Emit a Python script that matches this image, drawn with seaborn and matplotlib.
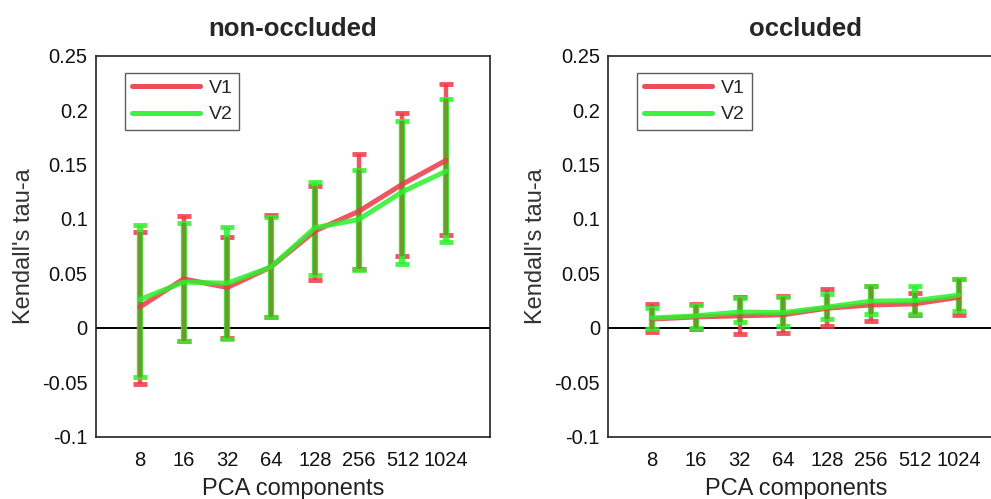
import numpy as np
import pandas as pd
import matplotlib
matplotlib.use("Agg")
import matplotlib.pyplot as plt
import seaborn as sns

# PCA dimensionality on the x axis
components = ["8", "16", "32", "64", "128", "256", "512", "1024"]
series_names = ["V1", "V2"]
panel_titles = ["non-occluded", "occluded"]

# non-occluded: mean Kendall's tau-a and interval bounds
nonocc_v1_mean = [0.019, 0.045, 0.037, 0.056, 0.089, 0.107, 0.132, 0.154]
nonocc_v1_low = [-0.052, -0.012, -0.009, 0.010, 0.044, 0.054, 0.066, 0.085]
nonocc_v1_high = [0.088, 0.103, 0.083, 0.1035, 0.1305, 0.160, 0.197, 0.224]
nonocc_v2_mean = [0.026, 0.042, 0.041, 0.056, 0.092, 0.0995, 0.125, 0.144]
nonocc_v2_low = [-0.045, -0.012, -0.0105, 0.010, 0.0485, 0.0535, 0.0585, 0.079]
nonocc_v2_high = [0.094, 0.0965, 0.093, 0.1015, 0.134, 0.145, 0.190, 0.210]

# occluded
occ_v1_mean = [0.008, 0.010, 0.011, 0.012, 0.018, 0.021, 0.022, 0.028]
occ_v1_low = [-0.004, -0.001, -0.0055, -0.0045, 0.0015, 0.006, 0.0115, 0.0115]
occ_v1_high = [0.022, 0.022, 0.028, 0.029, 0.036, 0.038, 0.032, 0.0445]
occ_v2_mean = [0.009, 0.011, 0.0145, 0.014, 0.019, 0.0245, 0.025, 0.030]
occ_v2_low = [-0.001, 0.0, 0.005, 0.0015, 0.0085, 0.013, 0.013, 0.0155]
occ_v2_high = [0.0185, 0.021, 0.027, 0.028, 0.031, 0.038, 0.038, 0.0445]

y_ticks = [-0.1, -0.05, 0, 0.05, 0.1, 0.15, 0.2, 0.25]
y_tick_labels = ["-0.1", "-0.05", "0", "0.05", "0.1", "0.15", "0.2", "0.25"]

panels = [
    {
        "V1": (nonocc_v1_mean, nonocc_v1_low, nonocc_v1_high),
        "V2": (nonocc_v2_mean, nonocc_v2_low, nonocc_v2_high),
    },
    {
        "V1": (occ_v1_mean, occ_v1_low, occ_v1_high),
        "V2": (occ_v2_mean, occ_v2_low, occ_v2_high),
    },
]

sns.set_theme(style="white")
plt.rcParams["font.family"] = ["Liberation Sans", "DejaVu Sans"]

red = "#ec3a47"
green = "#2cf02c"
olive = "#6c9a2c"
palette = {"V1": red, "V2": green}

fig = plt.figure(figsize=(9.91, 4.99), dpi=100)
axes = [
    fig.add_axes([0.0969, 0.1249, 0.3976, 0.7635]),
    fig.add_axes([0.6138, 0.1249, 0.3976, 0.7635]),
]

pos = np.arange(1, len(components) + 1)

for ax, panel, title in zip(axes, panels, panel_titles):
    # zero reference line
    ax.axhline(0, color="black", lw=1.4, zorder=1)

    # interval bars per series
    for name, width in zip(series_names, [3.2, 4.6]):
        mean, low, high = (np.asarray(a, float) for a in panel[name])
        ax.errorbar(pos, mean, yerr=[mean - low, high - mean], fmt="none",
                    ecolor=palette[name], elinewidth=width, capsize=5,
                    capthick=3.5, alpha=0.85, zorder=2)
    # overlapping part of both intervals
    lo_both = np.maximum(panel["V1"][1], panel["V2"][1])
    hi_both = np.minimum(panel["V1"][2], panel["V2"][2])
    ax.vlines(pos, lo_both, hi_both, color=olive, lw=3.2, zorder=3)

    frames = []
    for name in series_names:
        frames.append(pd.DataFrame({"pos": pos, "tau": panel[name][0],
                                    "series": name}))
    df = pd.concat(frames, ignore_index=True)
    sns.lineplot(data=df, x="pos", y="tau", hue="series", palette=palette,
                 linewidth=3.6, alpha=0.85, ax=ax, zorder=4, errorbar=None)

    handles, labels = ax.get_legend_handles_labels()
    for h in handles:
        h.set_alpha(0.9)
        h.set_linewidth(3.6)
    leg = ax.legend(handles, labels, loc="upper left",
                    bbox_to_anchor=(29 / 394, 1 - 17 / 381),
                    borderaxespad=0, fancybox=False, frameon=True,
                    fontsize=14, handlelength=3.5, handletextpad=0.45,
                    borderpad=0.35, labelspacing=0.45)
    leg.get_frame().set_edgecolor("#333333")
    leg.get_frame().set_linewidth(1.0)

    ax.set_xlim(0, len(components) + 1)
    ax.set_ylim(-0.1, 0.25)
    ax.set_xticks(pos)
    ax.set_xticklabels(components)
    ax.set_yticks(y_ticks)
    ax.set_yticklabels(y_tick_labels)
    ax.tick_params(axis="both", direction="in", length=4, width=1,
                   labelsize=14.5, colors="#222222", labelcolor="#111111")
    ax.tick_params(axis="x", pad=10)
    ax.tick_params(axis="y", pad=6)
    for spine in ax.spines.values():
        spine.set_visible(True)
        spine.set_color("#222222")
        spine.set_linewidth(1.2)

    ax.set_xlabel("PCA components", fontsize=17, color="#222222")
    ax.set_ylabel("Kendall's tau-a", fontsize=17, color="#333333", labelpad=5)
    ax.set_title(title, fontsize=18.5, fontweight="bold", pad=14)

axes[0].xaxis.set_label_coords(0.5, -0.108)
axes[1].xaxis.set_label_coords(0.476, -0.108)

fig.savefig("out.png", dpi=100)
